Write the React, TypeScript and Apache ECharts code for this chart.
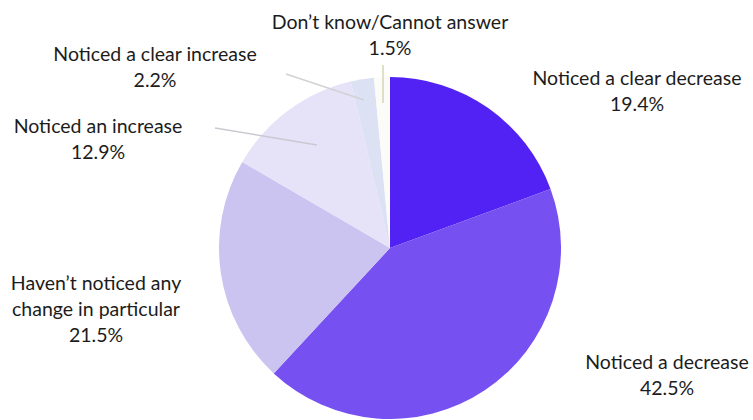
import React, { useEffect, useRef } from "react";
import * as echarts from "echarts";

const categories = [
  "Noticed a clear decrease",
  "Noticed a decrease",
  "Haven’t noticed any\nchange in particular",
  "Noticed an increase",
  "Noticed a clear increase",
  "Don’t know/Cannot answer",
];
const values = [19.4, 42.5, 21.5, 12.9, 2.2, 1.5];
const colors = ["#5122F3", "#7650F1", "#CBC3F0", "#E6E2F8", "#DCE2F4", "#FBFBF7"];
const showLine = [false, false, false, true, true, true];

// label centres and leader lines (layout, not data)
const labelPos: [number, number][] = [
  [637, 90],
  [667, 374],
  [96, 308],
  [98, 138],
  [155, 66],
  [390, 34],
];
const linePts: ([number, number][] | null)[] = [
  null,
  null,
  null,
  [[215, 128], [317, 145]],
  [[286, 74], [364, 100]],
  [[383, 65], [383, 103]],
];
const lineColors = ["#ccc", "#ccc", "#ccc", "#c9c9d2", "#d2d2d6", "#d6d6b4"];

export default function App() {
  const ref = useRef<HTMLDivElement>(null);
  useEffect(() => {
    if (!ref.current) return;
    const chart = echarts.init(ref.current, null, { renderer: "svg" });
    const base = {
      type: "pie",
      center: [390, 248],
      radius: [0, 171],
      startAngle: 90,
      clockwise: true,
      avoidLabelOverlap: false,
      silent: true,
    };
    chart.setOption({
      animation: false,
      backgroundColor: "#ffffff",
      series: [
        {
          ...base,
          z: 1,
          label: { show: false },
          labelLine: { show: false },
          data: categories.map((name, i) => ({
            name,
            value: values[i],
            itemStyle: { color: colors[i] },
          })),
        },
        {
          ...base,
          z: 5,
          itemStyle: { color: "rgba(0,0,0,0)" },
          data: categories.map((name, i) => ({
            name,
            value: values[i],
            labelLine: {
              show: showLine[i],
              lineStyle: { color: lineColors[i], width: 1.5 },
            },
          })),
          label: {
            show: true,
            position: "outside",
            formatter: (p: any) => `${p.name}\n${p.value.toFixed(1)}%`,
            fontFamily: "Lato",
            fontSize: 19.5,
            lineHeight: 26,
            color: "#1c1c1c",
            align: "center",
          },
          labelLayout: (params: any) => {
            const i = params.dataIndex;
            const pos = labelPos[i];
            const res: any = {
              x: pos[0],
              y: pos[1],
              align: "center",
              verticalAlign: "middle",
            };
            if (linePts[i]) res.labelLinePoints = linePts[i];
            return res;
          },
        },
      ],
    });
    return () => chart.dispose();
  }, []);
  return (
    <div
      ref={ref}
      style={{ position: "fixed", left: 0, top: 0, width: 753, height: 420 }}
    />
  );
}
